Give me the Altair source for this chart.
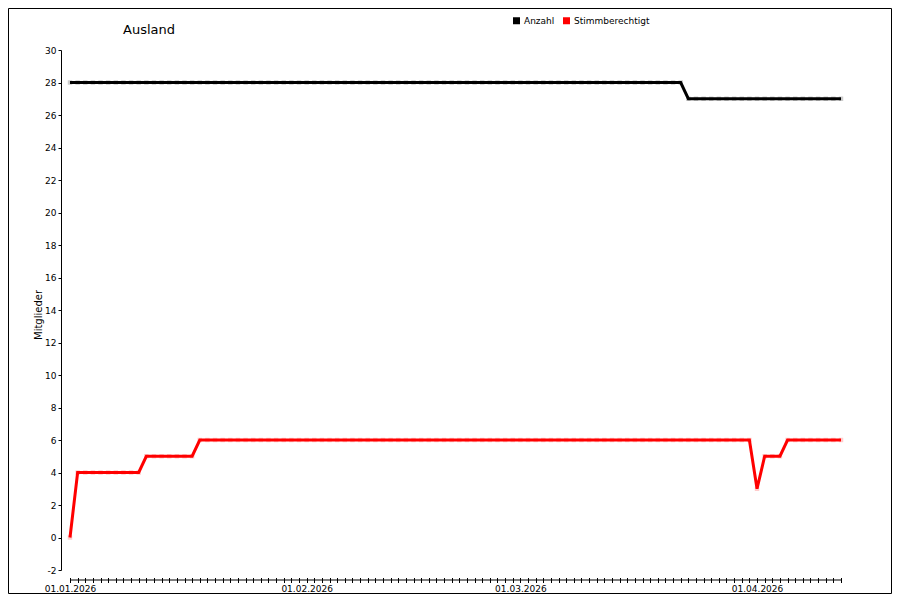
import pandas as pd
import altair as alt

# daily values, 01.01.2026 - 11.04.2026
anzahl = [
    28, 28, 28, 28, 28, 28, 28, 28, 28, 28,
    28, 28, 28, 28, 28, 28, 28, 28, 28, 28,
    28, 28, 28, 28, 28, 28, 28, 28, 28, 28,
    28, 28, 28, 28, 28, 28, 28, 28, 28, 28,
    28, 28, 28, 28, 28, 28, 28, 28, 28, 28,
    28, 28, 28, 28, 28, 28, 28, 28, 28, 28,
    28, 28, 28, 28, 28, 28, 28, 28, 28, 28,
    28, 28, 28, 28, 28, 28, 28, 28, 28, 28,
    28, 27, 27, 27, 27, 27, 27, 27, 27, 27,
    27, 27, 27, 27, 27, 27, 27, 27, 27, 27,
    27, 27,
]
stimmberechtigt = [
    0, 4, 4, 4, 4, 4, 4, 4, 4, 4,
    5, 5, 5, 5, 5, 5, 5, 6, 6, 6,
    6, 6, 6, 6, 6, 6, 6, 6, 6, 6,
    6, 6, 6, 6, 6, 6, 6, 6, 6, 6,
    6, 6, 6, 6, 6, 6, 6, 6, 6, 6,
    6, 6, 6, 6, 6, 6, 6, 6, 6, 6,
    6, 6, 6, 6, 6, 6, 6, 6, 6, 6,
    6, 6, 6, 6, 6, 6, 6, 6, 6, 6,
    6, 6, 6, 6, 6, 6, 6, 6, 6, 6,
    3, 5, 5, 5, 6, 6, 6, 6, 6, 6,
    6, 6,
]
serien = ["Anzahl", "Stimmberechtigt"]
farben = ["black", "#ff0000"]
y_ticks = list(range(-2, 31, 2))

n = len(anzahl)
tage = list(pd.date_range("2026-01-01", periods=n, freq="D").strftime("%Y-%m-%d"))
df = pd.DataFrame({
    "Datum": tage * 2,
    "Serie": [serien[0]] * n + [serien[1]] * n,
    "Wert": anzahl + stimmberechtigt,
})

# whole svg must stay inside the 900x600 window (8px page margin)
GES_W, GES_H = 884, 586
LINKS, OBEN = 62, 42
W, H = 771, 520
FONT = "DejaVu Sans"

x = alt.X("Datum:T", scale=alt.Scale(type="utc", nice=False, padding=0),
          axis=alt.Axis(title=None, grid=False, domain=False, offset=7.5, tickSize=5,
                        tickColor="black", tickCount={"interval": "day", "step": 1},
                        labelExpr="utcdate(datum.value) == 1 ? utcFormat(datum.value, '%d.%m.%Y') : ''",
                        labelOverlap=False, labelFlush=False, labelPadding=2,
                        labelFontSize=9, labelColor="black"))
y = alt.Y("Wert:Q", scale=alt.Scale(domain=[-2, 30], nice=False, zero=False),
          axis=alt.Axis(title=None, grid=False, offset=9, values=y_ticks, tickSize=3,
                        tickColor="black", domainColor="black", labelPadding=2,
                        labelExpr="'' + datum.value",
                        labelFontSize=9, labelColor="black"))
farbe = alt.Scale(domain=serien, range=farben)

halo = alt.Chart(df).mark_square(size=20, opacity=0.2).encode(
    x=x, y=y,
    color=alt.Color("Serie:N", scale=farbe,
                    legend=alt.Legend(title=None, orient="none", legendX=442, legendY=-34,
                                      direction="horizontal", symbolType="square",
                                      symbolSize=49, symbolOpacity=1, symbolStrokeWidth=0,
                                      labelFontSize=9, labelOffset=3, columnPadding=7,
                                      labelColor="black")),
)
linien = alt.Chart(df).mark_line(strokeWidth=3).encode(
    x=x, y=y, color=alt.Color("Serie:N", scale=farbe, legend=None)
)

eins = pd.DataFrame({"a": [0]})
achse_x = alt.Chart(eins).mark_rule(color="black", strokeWidth=1).encode(
    x=alt.value(0), x2=alt.value(W), y=alt.value(H + 10)
)
titel = alt.Chart(eins).mark_text(text="Ausland", fontSize=13, align="left",
                                  baseline="middle", color="black").encode(
    x=alt.value(53), y=alt.value(-20)
)
y_titel = alt.Chart(eins).mark_text(text="Mitglieder", fontSize=10, angle=270,
                                    align="center", baseline="middle", color="black").encode(
    x=alt.value(-31), y=alt.value(265)
)
rahmen = alt.Chart(eins).mark_rect(fill=None, stroke="black", strokeWidth=1).encode(
    x=alt.value(0.5 - LINKS), x2=alt.value(GES_W - LINKS - 0.5),
    y=alt.value(0.5 - OBEN), y2=alt.value(GES_H - OBEN - 0.5)
)

chart = alt.layer(halo, linien, achse_x, titel, y_titel, rahmen).properties(
    width=W, height=H,
    autosize=alt.AutoSizeParams(type="none"),
    padding={"left": LINKS, "top": OBEN, "right": GES_W - LINKS - W, "bottom": GES_H - OBEN - H},
).configure(font=FONT).configure_view(stroke=None)

chart.save("out.html", embed_options={"renderer": "svg", "actions": False})
